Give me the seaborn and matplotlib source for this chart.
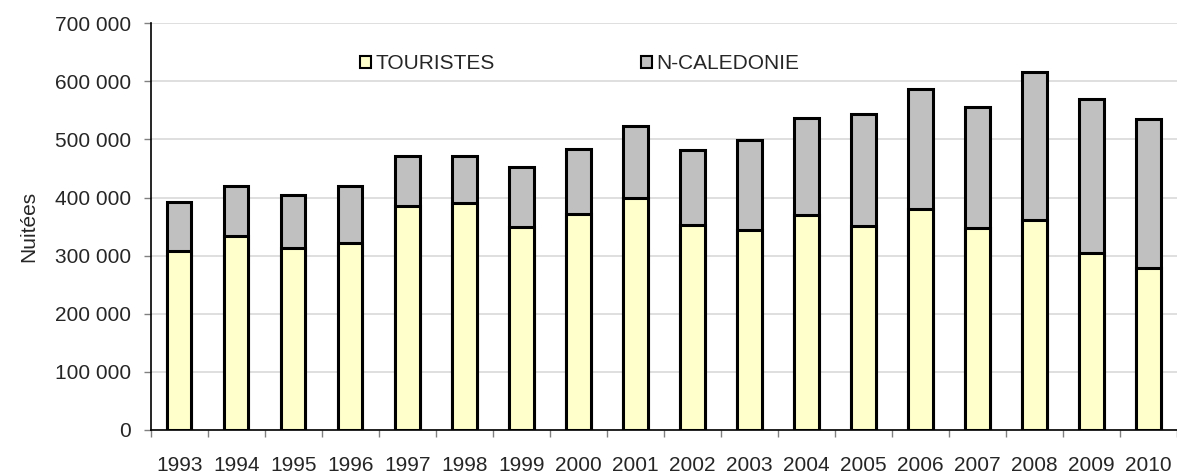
import matplotlib
matplotlib.use("Agg")
import matplotlib.pyplot as plt
from matplotlib.patches import Patch
from matplotlib.ticker import FuncFormatter, FixedLocator
import seaborn as sns
import pandas as pd
import numpy as np

years = [str(y) for y in range(1993, 2011)]
touristes = [308000, 333000, 313000, 321000, 385000, 391000, 350000, 372000, 400000,
             352000, 344000, 370000, 351000, 380000, 348000, 361000, 305000, 279000]
totals = [393000, 419000, 404000, 419000, 472000, 472000, 452000, 483000, 523000,
          481000, 499000, 537000, 544000, 586000, 555000, 616000, 569000, 535000]
caledonie = [t - u for t, u in zip(totals, touristes)]

df = pd.DataFrame({"annee": years, "touristes": touristes,
                   "caledonie": caledonie, "total": totals})

sns.set_style("white")
plt.rcParams["font.family"] = ["Liberation Sans", "DejaVu Sans"]

fig = plt.figure(figsize=(11.77, 4.74), dpi=100)
ax = fig.add_axes([0.128, 0.093, 0.872, 0.858])

yellow = "#FFFFCC"
grey = "#C0C0C0"
fs = 15

# stacked: total bar in grey, tourists drawn over it from zero
sns.barplot(data=df, x="annee", y="total", color=grey, width=0.43,
            edgecolor="black", linewidth=2.2, saturation=1, ax=ax, zorder=3)
sns.barplot(data=df, x="annee", y="touristes", color=yellow, width=0.43,
            edgecolor="black", linewidth=2.2, saturation=1, ax=ax, zorder=4)

ax.set_xlim(-0.5, len(years) - 0.5)
ax.set_ylim(0, 700000)
ax.set_yticks(np.arange(0, 700001, 100000))
ax.yaxis.set_major_formatter(FuncFormatter(lambda v, p: f"{int(v):,}".replace(",", " ")))
ax.grid(axis="y", color="#D9D9D9", linewidth=1.2, zorder=0)
ax.set_axisbelow(True)

ax.set_xlabel("")
ax.set_ylabel("Nuitées", fontsize=fs, labelpad=12)
ax.tick_params(axis="y", labelsize=fs, length=5, width=1, color="#808080",
               direction="out", pad=9, left=True)
ax.tick_params(axis="x", which="major", length=0, labelsize=fs, pad=18.5)
ax.xaxis.set_minor_locator(FixedLocator(np.arange(-0.5, len(years), 1.0)))
ax.tick_params(axis="x", which="minor", length=5, width=1, color="#808080",
               direction="out", bottom=True)

for side in ["top", "right"]:
    ax.spines[side].set_visible(False)
for side in ["left", "bottom"]:
    ax.spines[side].set_color("black")
    ax.spines[side].set_linewidth(1.2)

handles = [Patch(facecolor=yellow, edgecolor="black", linewidth=1.5, label="TOURISTES"),
           Patch(facecolor=grey, edgecolor="black", linewidth=1.5, label="N-CALEDONIE")]
ax.legend(handles=handles, loc="center", bbox_to_anchor=(0.418, 0.9), ncol=2,
          frameon=False, fontsize=fs, handlelength=0.55, handleheight=0.55,
          handletextpad=0.2, columnspacing=7.0)

fig.savefig("out.png", dpi=100)
